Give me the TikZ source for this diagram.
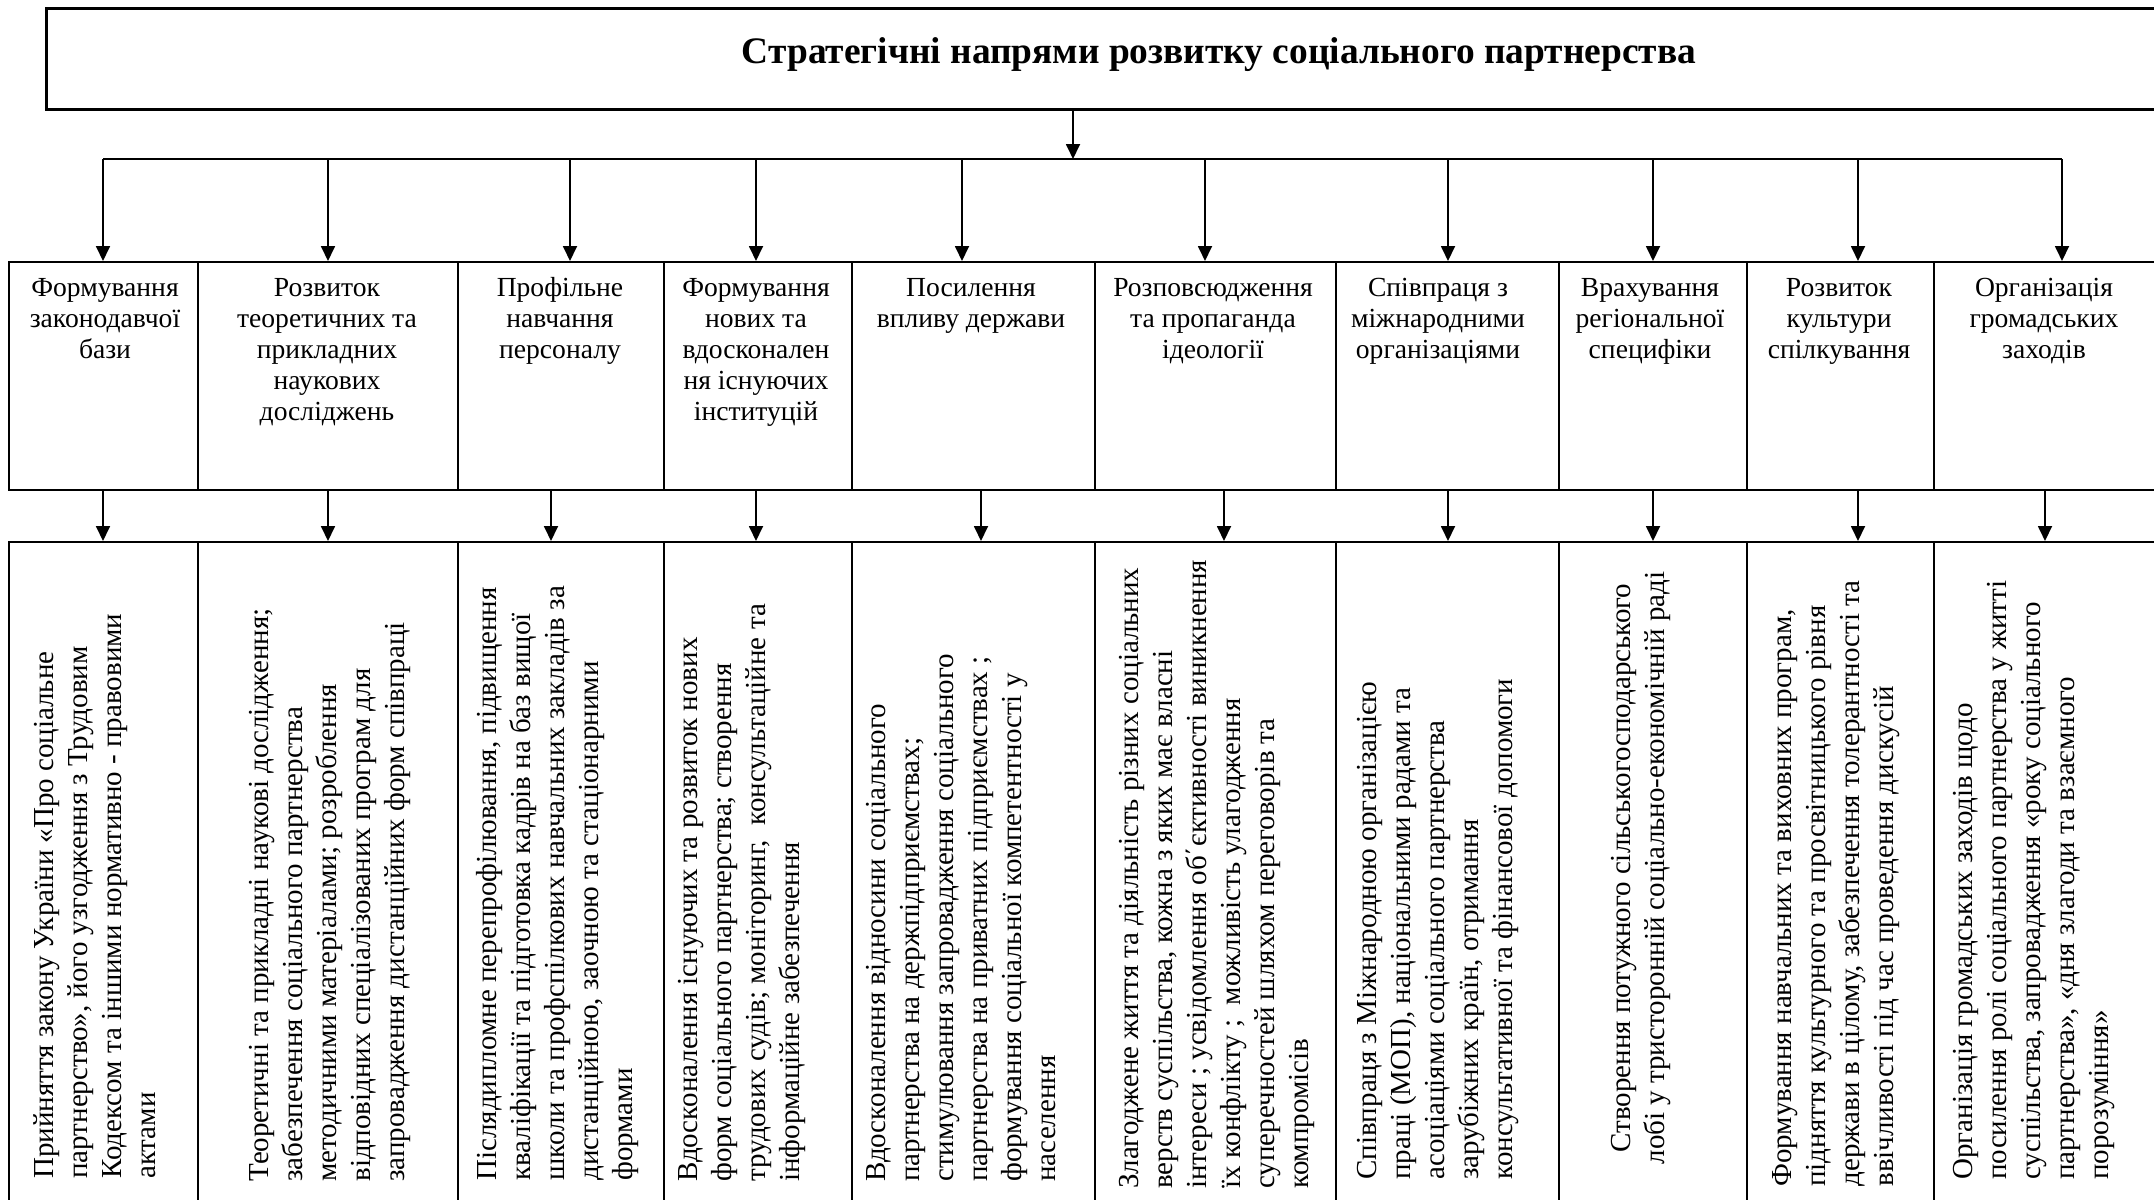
\documentclass[tikz,border=0pt]{standalone}
\usepackage{fontspec}
\setmainfont{Liberation Serif}
\usetikzlibrary{arrows.meta}
\begin{document}
\begin{tikzpicture}[x=0.5pt,y=-0.5pt,
  conn/.style={line width=0.9pt},
  arr/.style={conn,-{Triangle[length=7.5pt,width=7pt]}},
  titlebox/.style={draw,line width=1.7pt,inner sep=0pt,anchor=north west},
  colbox/.style={draw,line width=1pt,inner sep=0pt,anchor=north west},
  head/.style={anchor=north,align=center,inner sep=0pt,font=\fontsize{13.8}{15.5}\selectfont},
  body/.style={rotate=90,anchor=north west,align=left,inner sep=0pt,font=\fontsize{14.5}{17}\selectfont},
]
\useasboundingbox (0,0) rectangle (2154,1200);
\clip (0,0) rectangle (2154,1200);

% heading box
\node[titlebox,minimum width=1180pt,minimum height=50.5pt] (top) at (45,7) {};
\node[font=\bfseries\fontsize{18.7}{21}\selectfont] (title) at (1219,55)
  {Стратегічні напрями розвитку соціального партнерства};

% column boxes: directions (m) and measures (b)
\foreach \i/\x/\w in {1/8/189,2/197/260,3/457/206,4/663/188,5/851/243,
                      6/1094/241,7/1335/223,8/1558/188,9/1746/187,10/1933/240}{
  \node[colbox,minimum width=\w*0.5pt,minimum height=114pt] (m\i) at (\x,261) {};
  \node[colbox,minimum width=\w*0.5pt,minimum height=340pt] (b\i) at (\x,541) {};
}

% distribution bar
\coordinate (hub) at (1073,159);
\foreach \i/\x in {1/103,2/328,3/570,4/756,5/962,6/1205,7/1448,8/1653,9/1858,10/2062}{
  \coordinate (t\i) at (\x,159);
}
\draw[arr] (hub |- top.south) -- (hub);
\draw[conn] (t1) -- (t10);
\foreach \i in {1,...,10}{
  \draw[arr] (t\i) -- (t\i |- m\i.north);
}
\foreach \i/\x in {1/103,2/328,3/551,4/756,5/981,6/1224,7/1448,8/1653,9/1858,10/2045}{
  \coordinate (d\i) at (\x,500);
  \draw[arr] (d\i |- m\i.south) -- (d\i |- b\i.north);
}

% direction headings
\node[head] (h1) at (105,274) {\strut Формування\\законодавчої\\бази};
\node[head] (h2) at (327,274) {\strut Розвиток\\теоретичних та\\прикладних\\наукових\\досліджень};
\node[head] (h3) at (560,274) {\strut Профільне\\навчання\\персоналу};
\node[head] (h4) at (756,274) {\strut Формування\\нових та\\вдосконален\\ня існуючих\\інституцій};
\node[head] (h5) at (971,274) {\strut Посилення\\впливу держави};
\node[head] (h6) at (1213,274) {\strut Розповсюдження\\та пропаганда\\ідеології};
\node[head] (h7) at (1438,274) {\strut Співпраця з\\міжнародними\\організаціями};
\node[head] (h8) at (1650,274) {\strut Врахування\\регіональної\\специфіки};
\node[head] (h9) at (1839,274) {\strut Розвиток\\культури\\спілкування};
\node[head] (h10) at (2044,274) {\strut Організація\\громадських\\заходів};

% measures, written upwards
\node[body] (x1) at (29,1179) {\strut Прийняття закону України «Про соціальне\\
партнерство», його узгодження з Трудовим\\
Кодексом та іншими нормативно - правовими\\
актами};
\node[body] (x2) at (244,1182) {\strut Теоретичні та прикладні наукові дослідження;\\
забезпечення соціального партнерства\\
методичними матеріалами; розроблення\\
відповідних спеціалізованих програм для\\
запровадження дистанційних форм співпраці};
\node[body] (x3) at (472,1181) {\strut Післядипломне перепрофілювання, підвищення\\
кваліфікації та підготовка кадрів на баз вищої\\
школи та профспілкових навчальних закладів за\\
дистанційною, заочною та стаціонарними\\
формами};
\node[body] (x4) at (673,1182) {\strut Вдосконалення існуючих та розвиток нових\\
форм соціального партнерства; створення\\
трудових судів; моніторинг, \ консультаційне та\\
інформаційне забезпечення};
\node[body] (x5) at (861,1182) {\strut Вдосконалення відносини соціального\\
партнерства на держпідприємствах;\\
стимулювання запровадження соціального\\
партнерства на приватних підприємствах ;\\
формування соціальної компетентності у\\
населення};
\node[body] (x6) at (1114,1189) {\strut Злагоджене життя та діяльність різних соціальних\\
верств суспільства, кожна з яких має власні\\
інтереси ; усвідомлення об΄єктивності виникнення\\
їх конфлікту ; \ можливість улагодження\\
суперечностей шляхом переговорів та\\
компромісів};
\node[body] (x7) at (1352,1180) {\strut Співпраця з Міжнародною організацією\\
праці (МОП), національними радами та\\
асоціаціями соціального партнерства\\
зарубіжних країн, отримання\\
консультативної та фінансової допомоги};
\node[body,anchor=center,align=center] (x8) at (1641,868) {Створення потужного сільськогосподарського\\
лобі у тристоронній соціально-економічній раді};
\node[body] (x9) at (1767,1187) {\strut Формування навчальних та виховних програм,\\
підняття культурного та просвітницького рівня\\
держави в цілому, забезпечення толерантності та\\
ввічливості під час проведення дискусій};
\node[body] (x10) at (1948,1180) {\strut Організація громадських заходів щодо\\
посилення ролі соціального партнерства у житті\\
суспільства, запровадження «року соціального\\
партнерства», «дня злагоди та взаємного\\
порозуміння»};
\end{tikzpicture}
\end{document}
